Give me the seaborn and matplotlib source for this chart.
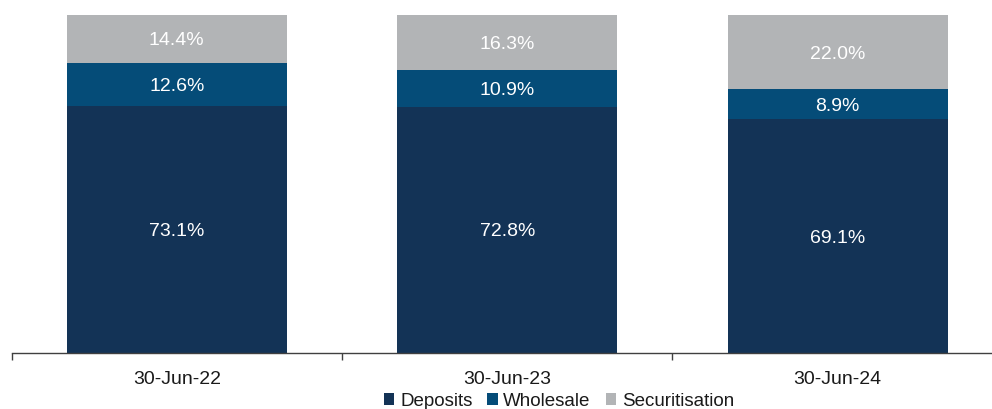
import matplotlib
matplotlib.use("Agg")
import matplotlib.pyplot as plt
import seaborn as sns
import pandas as pd
import numpy as np
from matplotlib.patches import Patch

categories = ["30-Jun-22", "30-Jun-23", "30-Jun-24"]
deposits = [73.1, 72.8, 69.1]
wholesale = [12.6, 10.9, 8.9]
securitisation = [14.4, 16.3, 22.0]
series_names = ["Deposits", "Wholesale", "Securitisation"]
colors = ["#133356", "#054C78", "#B2B4B6"]

sns.set_theme(style="white")
plt.rcParams["font.family"] = ["Liberation Sans", "DejaVu Sans"]

fig = plt.figure(figsize=(9.92, 4.09), dpi=100)
W, H = 992, 409
ymax = 102
slot = 330.5
ax = fig.add_axes([11.5 / W, 56 / H, 3 * slot / W, 3.38 * ymax / H])

bottoms = np.zeros(len(categories))
series = [deposits, wholesale, securitisation]
for name, vals, col in zip(series_names, series, colors):
    d = pd.DataFrame({"category": categories, "value": vals})
    sns.barplot(data=d, x="category", y="value", ax=ax, color=col,
                width=0.667, bottom=bottoms, saturation=1, linewidth=0,
                edgecolor="none")
    for i, v in enumerate(vals):
        ax.text(i, bottoms[i] + v / 2, f"{v:.1f}%", ha="center",
                va="center_baseline", color="white", fontsize=14)
    bottoms = bottoms + np.array(vals)

ax.set_xlim(-0.5, 2.5)
ax.set_ylim(0, ymax)
ax.set_xlabel("")
ax.set_ylabel("")
ax.set_yticks([])
for s in ["top", "right", "left"]:
    ax.spines[s].set_visible(False)
ax.spines["bottom"].set_color("#404040")
ax.spines["bottom"].set_linewidth(1.0)
ax.set_xticks([0, 1, 2])
ax.set_xticklabels(categories, fontsize=14, color="#1a1a1a")
ax.tick_params(axis="x", which="major", length=0, pad=13)
ax.set_xticks([-0.5, 0.5, 1.5, 2.5], minor=True)
ax.tick_params(axis="x", which="minor", length=5, width=1.0, color="#404040",
               direction="out", bottom=True)

handles = [Patch(facecolor=c, edgecolor="none", label=n) for n, c in zip(series_names, colors)]
fig.legend(handles=handles, loc="center", bbox_to_anchor=(559 / W, 1 - 401 / H),
           ncol=3, frameon=False, fontsize=13.5, handlelength=0.55, handleheight=0.55,
           handletextpad=0.3, columnspacing=0.8, labelcolor="#1a1a1a",
           borderpad=0, borderaxespad=0)

fig.savefig("out.png", dpi=100)
